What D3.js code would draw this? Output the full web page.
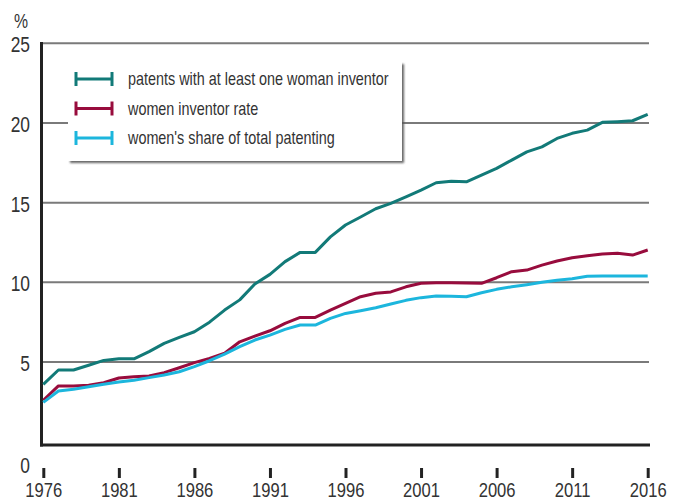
<!DOCTYPE html>
<html>
<head>
<meta charset="utf-8">
<script src="https://cdn.jsdelivr.net/npm/d3@7"></script>
<style>
  body { margin: 0; background: #fff; }
  svg text { font-family: "Liberation Sans", Arial, sans-serif; fill: #333; }
</style>
</head>
<body>
<div id="chart"></div>
<script>
// years 1976..2016
var years = d3.range(1976, 2017)

var atLeastOne = [3.6, 4.5, 4.5, 4.8, 5.1, 5.2, 5.2, 5.65, 6.17, 6.55,
  6.9, 7.5, 8.26, 8.9, 9.9, 10.5, 11.3, 11.88, 11.88, 12.85,
  13.6, 14.1, 14.62, 14.95, 15.37, 15.79, 16.25, 16.35, 16.31, 16.73,
  17.15, 17.67, 18.19, 18.5, 19.03, 19.35, 19.55, 20.04, 20.08, 20.14, 20.54]

var inventorRate = [2.6, 3.5, 3.5, 3.55, 3.7, 4.0, 4.08, 4.12, 4.33, 4.64,
  4.96, 5.23, 5.55, 6.27, 6.63, 6.96, 7.43, 7.8, 7.8, 8.26,
  8.68, 9.1, 9.31, 9.4, 9.72, 9.94, 9.98, 9.98, 9.96, 9.94,
  10.29, 10.67, 10.77, 11.08, 11.34, 11.54, 11.67, 11.78, 11.82, 11.71, 12.03]

var shareTotal = [2.47, 3.18, 3.29, 3.45, 3.6, 3.75, 3.85, 4.02, 4.18, 4.39,
  4.71, 5.08, 5.5, 5.96, 6.38, 6.69, 7.05, 7.32, 7.32, 7.74,
  8.05, 8.22, 8.41, 8.64, 8.87, 9.04, 9.14, 9.12, 9.1, 9.35,
  9.56, 9.72, 9.85, 10.0, 10.13, 10.23, 10.38, 10.4, 10.4, 10.4, 10.4]

var seriesNames = ["patents with at least one woman inventor", "women inventor rate", "women's share of total patenting"]
var seriesColors = ["#127a78", "#980c3d", "#1cb6dd"]
var yTicks = [5, 10, 15, 20, 25]
var xTicks = [1976, 1981, 1986, 1991, 1996, 2001, 2006, 2011, 2016]

var width = 676, height = 502
var narrow = "scale(0.79,1)"  // condensed look for axis labels
var narrowLegend = "scale(0.8,1)"

var svg = d3.select("#chart").append("svg")
    .attr("width", width)
    .attr("height", height)

var x = d3.scaleLinear().domain([1976, 2016]).range([43.3, 647.7])
var y = d3.scaleLinear().domain([0, 25]).range([441.7, 43.3])

var defs = svg.append("defs")
var shadow = defs.append("filter").attr("id", "shadow")
    .attr("x", "-5%").attr("y", "-5%").attr("width", "115%").attr("height", "120%")
shadow.append("feDropShadow")
    .attr("dx", 2).attr("dy", 2).attr("stdDeviation", 0.8)
    .attr("flood-color", "#555").attr("flood-opacity", 0.9)

// gridlines
svg.append("g").selectAll("line")
    .data(yTicks)
    .enter().append("line")
    .attr("x1", 41).attr("x2", 649)
    .attr("y1", d => y(d)).attr("y2", d => y(d))
    .attr("stroke", "#7a7a7a")
    .attr("stroke-width", 2)

// y labels
svg.append("g")
    .attr("transform", "translate(30,0)")
    .call(d3.axisLeft(y).tickValues(yTicks).tickSize(0).tickPadding(0))
    .call(g => g.select(".domain").remove())
    .selectAll("text")
    .attr("x", 0)
    .attr("dy", "0.38em")
    .attr("transform", narrow)
    .style("font-size", "22px")

svg.append("g").attr("transform", "translate(30,473)")
  .append("text")
    .attr("text-anchor", "end")
    .attr("transform", narrow)
    .style("font-size", "22px")
    .text("0")

svg.append("g").attr("transform", "translate(21,28)")
  .append("text")
    .attr("text-anchor", "middle")
    .attr("transform", narrow)
    .style("font-size", "20px")
    .text("%")

// axes lines
svg.append("line")
    .attr("x1", 41.5).attr("x2", 41.5).attr("y1", 42).attr("y2", 446.5)
    .attr("stroke", "#222").attr("stroke-width", 3)
svg.append("line")
    .attr("x1", 40).attr("x2", 650).attr("y1", 445).attr("y2", 445)
    .attr("stroke", "#222").attr("stroke-width", 3)

// x axis ticks and labels
var xAxis = svg.append("g")
    .attr("transform", "translate(0,468)")
    .call(d3.axisBottom(x).tickValues(xTicks).tickFormat(d3.format("d")).tickSize(10))
xAxis.select(".domain").remove()
xAxis.selectAll(".tick line").attr("stroke", "#222").attr("stroke-width", 3)
xAxis.selectAll("text")
    .attr("y", 29).attr("dy", 0)
    .attr("transform", narrow)
    .style("font-size", "21px").attr("fill", "#333")

// legend box
var legend = svg.append("g")
legend.append("rect")
    .attr("x", 68).attr("y", 62)
    .attr("width", 334).attr("height", 99)
    .attr("fill", "#fff")
    .attr("filter", "url(#shadow)")

var legendItems = legend.selectAll(".item")
    .data(seriesNames)
    .enter().append("g")
    .attr("class", "item")
    .attr("transform", (d, i) => "translate(0," + (79 + i * 29.5) + ")")

legendItems.append("line")
    .attr("x1", 76).attr("x2", 112).attr("y1", 0).attr("y2", 0)
    .attr("stroke", (d, i) => seriesColors[i]).attr("stroke-width", 3)
legendItems.append("line")
    .attr("x1", 76).attr("x2", 76).attr("y1", -7).attr("y2", 7)
    .attr("stroke", (d, i) => seriesColors[i]).attr("stroke-width", 3)
legendItems.append("line")
    .attr("x1", 112).attr("x2", 112).attr("y1", -7).attr("y2", 7)
    .attr("stroke", (d, i) => seriesColors[i]).attr("stroke-width", 3)
legendItems.append("g")
    .attr("transform", "translate(128,0)")
  .append("text")
    .attr("dy", "0.35em")
    .attr("transform", narrowLegend)
    .style("font-size", "18px")
    .text(d => d)

// lines
var line = d3.line()
    .x((d, i) => x(years[i]))
    .y(d => y(d))

var allSeries = [atLeastOne, inventorRate, shareTotal]
svg.append("g").selectAll("path")
    .data(allSeries)
    .enter().append("path")
    .attr("d", line)
    .attr("fill", "none")
    .attr("stroke", (d, i) => seriesColors[i])
    .attr("stroke-width", 3)
    .attr("stroke-linejoin", "round")
</script>
</body>
</html>
